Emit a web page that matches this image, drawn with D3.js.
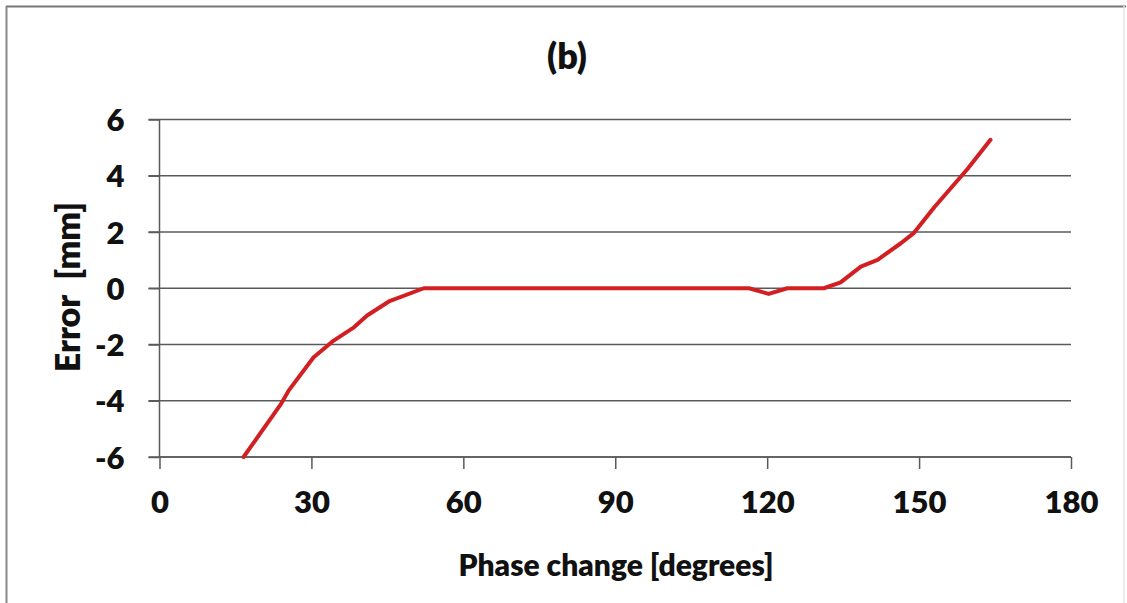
<!DOCTYPE html>
<html>
<head>
<meta charset="utf-8">
<script src="https://cdn.jsdelivr.net/npm/d3@7"></script>
<style>
  html, body { margin: 0; padding: 0; background: #fff; }
  svg { display: block; }
  text { font-family: Lato, "Open Sans", sans-serif; font-weight: 900; fill: #111; }
</style>
</head>
<body>
<svg id="chart" width="1127" height="603"></svg>
<script>
// Data
const phaseDeg = [16.6, 23.9, 25.5, 30.4, 34.4, 38.4, 41.0, 45.3, 52.2, 116.4, 120.3, 124.0, 131.2, 134.5, 138.5, 141.8, 146.4, 149.0, 153.0, 159.6, 164.1];
const errorMm  = [-6, -4.14, -3.64, -2.46, -1.86, -1.39, -0.97, -0.47, 0, 0, -0.2, 0, 0, 0.21, 0.77, 1.01, 1.6, 1.97, 2.88, 4.25, 5.28];
const xTicks = [0, 30, 60, 90, 120, 150, 180];
const yTicks = [-6, -4, -2, 0, 2, 4, 6];
const titleText = "(b)";
const xLabel = "Phase change [degrees]";
const yLabel = "Error  [mm]";

const svg = d3.select("#chart");
const W = 1127, H = 603;
const plot = { left: 159.5, right: 1071, top: 119.5, bottom: 457 };
const FW = 800;

// Outer frame
svg.append("line").attr("x1", 6).attr("x2", 1126).attr("y1", 6.5).attr("y2", 6.5)
  .attr("stroke", "#777").attr("stroke-width", 2);
svg.append("line").attr("x1", 6.5).attr("x2", 6.5).attr("y1", 6).attr("y2", H)
  .attr("stroke", "#888").attr("stroke-width", 2);
svg.append("line").attr("x1", 1124).attr("x2", 1124).attr("y1", 6).attr("y2", H)
  .attr("stroke", "#e4e4e4").attr("stroke-width", 1.5);

const x = d3.scaleLinear().domain([0, 180]).range([plot.left, plot.right]);
const y = d3.scaleLinear().domain([-6, 6]).range([plot.bottom, plot.top]);

// Gridlines (with left tick extension)
const gridG = svg.append("g");
gridG.selectAll("line").data(yTicks).join("line")
  .attr("x1", plot.left - 11).attr("x2", plot.right)
  .attr("y1", d => y(d)).attr("y2", d => y(d))
  .attr("stroke", "#5a5a5a").attr("stroke-width", 1.5);

// Y axis
const yAxis = d3.axisLeft(y).tickValues(yTicks).tickSize(11).tickPadding(24).tickFormat(d => String(d));
const yG = svg.append("g").attr("transform", `translate(${plot.left},0)`).call(yAxis);
yG.select(".domain").attr("stroke", "#5a5a5a").attr("stroke-width", 1.5).attr("d", `M0,${plot.top}V${plot.bottom}`);
yG.selectAll(".tick line").attr("stroke", "#5a5a5a").attr("stroke-width", 1.5);
yG.selectAll(".tick text").style("font-size", "31px").attr("fill", "#111")
  .style("font-family", "Lato, sans-serif").style("font-weight", FW).attr("dy", "0.36em");

// X axis
const xAxis = d3.axisBottom(x).tickValues(xTicks).tickSize(12).tickPadding(22).tickFormat(d => String(d));
const xG = svg.append("g").attr("transform", `translate(0,${plot.bottom})`).call(xAxis);
xG.select(".domain").attr("stroke", "#5a5a5a").attr("stroke-width", 1.5).attr("d", `M${plot.left},0H${plot.right}`);
xG.selectAll(".tick line").attr("stroke", "#5a5a5a").attr("stroke-width", 1.5);
xG.selectAll(".tick text").style("font-size", "31px").attr("fill", "#111")
  .style("font-family", "Lato, sans-serif").style("font-weight", FW);

// Line
const data = phaseDeg.map((d, i) => [d, errorMm[i]]);
svg.append("path").datum(data)
  .attr("fill", "none").attr("stroke", "#d21f22").attr("stroke-width", 4)
  .attr("stroke-linejoin", "round").attr("stroke-linecap", "round")
  .attr("d", d3.line().x(d => x(d[0])).y(d => y(d[1])));

// Title
svg.append("text").attr("x", 567).attr("y", 69).attr("text-anchor", "middle")
  .style("font-size", "36px").style("font-weight", FW).text(titleText);

// Axis labels
svg.append("text").attr("x", 616).attr("y", 576).attr("text-anchor", "middle")
  .style("font-size", "30px").style("font-weight", FW).text(xLabel);
svg.append("text").attr("transform", "translate(80,287) rotate(-90)").attr("text-anchor", "middle")
  .style("font-size", "34px").style("font-weight", FW).attr("xml:space", "preserve").style("white-space", "pre").text(yLabel);
</script>
</body>
</html>
